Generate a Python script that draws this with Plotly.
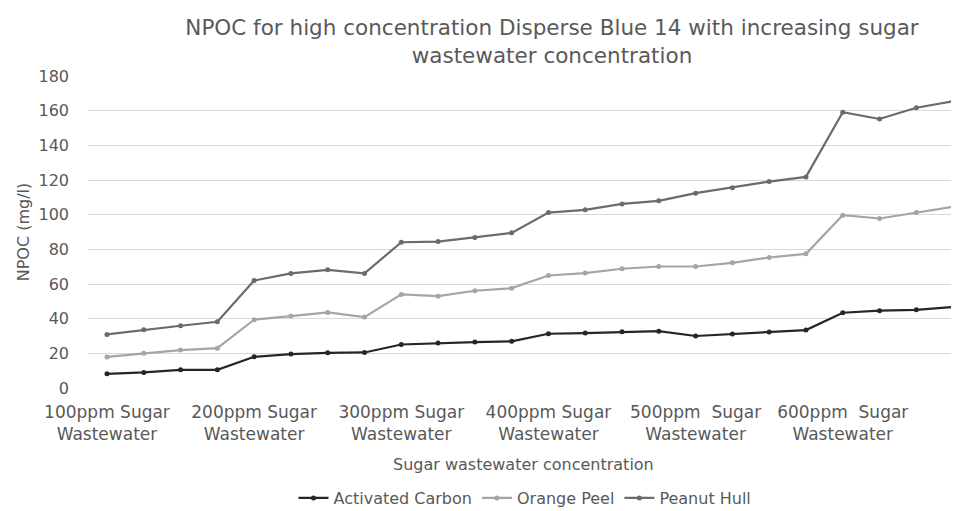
import plotly.graph_objects as go

x_idx = list(range(24))
tick_positions = [0, 4, 8, 12, 16, 20]
tick_labels = [
    "100ppm Sugar<br>Wastewater",
    "200ppm Sugar<br>Wastewater",
    "300ppm Sugar<br>Wastewater",
    "400ppm Sugar<br>Wastewater",
    "500ppm  Sugar<br>Wastewater",
    "600ppm  Sugar<br>Wastewater",
]

activated_carbon = [8.2, 9.0, 10.5, 10.5, 18.0, 19.6, 20.3, 20.5, 25.1, 25.9, 26.5, 26.9,
                    31.3, 31.7, 32.4, 32.8, 30.0, 31.1, 32.3, 33.4, 43.4, 44.6, 45.1, 46.7]
orange_peel = [17.9, 20.0, 21.9, 23.0, 39.4, 41.5, 43.6, 40.9, 54.0, 53.0, 56.1, 57.6,
               64.9, 66.3, 68.8, 70.1, 70.1, 72.2, 75.3, 77.4, 99.7, 97.8, 101.2, 104.5]
peanut_hull = [30.9, 33.6, 35.9, 38.2, 62.0, 66.1, 68.2, 66.1, 84.1, 84.5, 86.8, 89.5,
               101.2, 102.8, 106.2, 108.0, 112.4, 115.6, 119.1, 121.8, 159.1, 155.2, 161.7, 165.4]

series = [
    ("Activated Carbon", activated_carbon, "#262626"),
    ("Orange Peel", orange_peel, "#a5a5a5"),
    ("Peanut Hull", peanut_hull, "#6b6b6b"),
]

FONT = "DejaVu Sans"
TXT = "#595959"
W, H = 951, 503  # page body has an 8px offset

fig = go.Figure()
for name, vals, col in series:
    fig.add_trace(go.Scatter(
        x=x_idx, y=vals, name=name, mode="lines+markers",
        line=dict(color=col, width=2.2),
        marker=dict(color=col, size=5),
    ))

fig.update_layout(
    width=W, height=H,
    paper_bgcolor="white", plot_bgcolor="white",
    margin=dict(l=80, r=0, t=68, b=123),
    font=dict(family=FONT, color=TXT, size=16),
    title=dict(
        text="NPOC for high concentration Disperse Blue 14 with increasing sugar<br>wastewater concentration",
        x=544 / W, xanchor="center", y=1 - 27 / H, yanchor="middle",
        font=dict(family=FONT, size=21.5, color=TXT),
    ),
    xaxis=dict(
        range=[-0.516, 23.16],
        tickmode="array", tickvals=tick_positions, ticktext=tick_labels,
        showgrid=False, zeroline=False, showline=False, ticks="",
        tickfont=dict(size=17, color=TXT),
        ticklabelstandoff=12,
    ),
    yaxis=dict(
        range=[0, 180], dtick=20,
        showgrid=True, gridcolor="#d9d9d9", gridwidth=1,
        zeroline=False, showline=False, ticks="",
        tickfont=dict(size=16, color=TXT),
        ticklabelstandoff=18,
        title=dict(text="NPOC (mg/l)", font=dict(size=16, color=TXT), standoff=4),
    ),
    legend=dict(
        orientation="h", xref="container", yref="container",
        x=517 / W, xanchor="center", y=1 - 490 / H, yanchor="middle",
        font=dict(size=16, color=TXT),
    ),
    annotations=[dict(
        text="Sugar wastewater concentration", xref="paper", yref="paper",
        x=0.5, y=(380 - 456) / 312, xanchor="center", yanchor="middle",
        showarrow=False, font=dict(size=16, color=TXT),
    )],
)

fig.write_html("out.html")
